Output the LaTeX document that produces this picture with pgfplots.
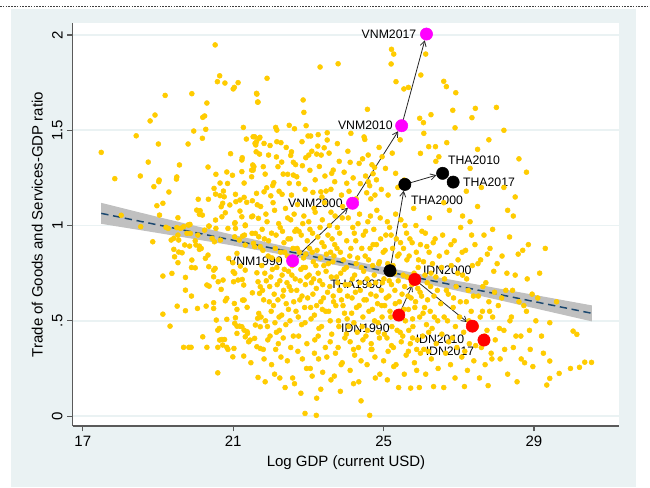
\documentclass[border=0pt]{standalone}
\usepackage{fontspec}
\setmainfont{Liberation Sans}
\usepackage{pgfplots}
\usepackage{pgfplotstable}
\pgfplotsset{compat=1.18}
\usetikzlibrary{arrows.meta}
\definecolor{bgc}{RGB}{234,242,243}
\definecolor{dotc}{RGB}{255,204,0}
\definecolor{bandc}{RGB}{192,192,192}
\definecolor{navy}{RGB}{26,71,111}
\definecolor{axc}{RGB}{90,90,90}
\definecolor{mag}{RGB}{255,0,255}

\pgfplotstableread{
x y
17.49 1.384
17.85 1.246
18.02 1.054
18.42 1.471
18.53 1.260
18.74 1.333
18.79 1.549
18.92 1.580
19.01 1.428
19.19 1.683
19.03 1.239
19.02 1.230
18.89 1.204
19.13 1.117
18.97 1.104
19.04 1.055
19.29 1.176
19.50 1.255
19.49 1.244
19.57 1.318
19.80 1.428
19.90 1.692
20.52 1.948
20.64 1.786
20.58 1.755
20.78 1.748
21.13 1.750
21.00 1.717
21.03 1.725
21.62 1.694
21.65 1.648
20.30 1.643
20.19 1.568
20.24 1.575
20.27 1.505
19.95 1.496
20.18 1.458
21.27 1.515
21.35 1.454
21.57 1.466
21.69 1.458
21.60 1.423
21.62 1.440
20.93 1.377
21.24 1.356
21.23 1.344
20.33 1.307
20.54 1.269
20.65 1.223
20.85 1.221
20.98 1.264
20.83 1.281
21.23 1.283
21.29 1.223
21.53 1.291
21.55 1.309
21.49 1.256
20.74 1.181
20.53 1.165
20.34 1.138
20.07 1.138
20.03 1.081
20.12 1.078
20.10 1.059
20.18 1.055
20.49 1.195
20.65 1.157
20.76 1.151
20.72 1.117
20.68 1.099
20.79 1.067
20.70 1.046
20.53 1.029
21.06 1.164
20.91 1.108
21.07 1.125
21.18 1.134
21.29 1.148
21.36 1.122
21.51 1.130
21.64 1.109
21.18 1.076
21.23 1.046
21.49 1.046
21.67 1.038
19.80 1.003
19.53 1.041
18.54 0.994
19.21 0.991
19.50 0.989
19.85 1.006
20.36 0.997
21.05 1.015
21.32 0.999
25.21 1.925
25.27 1.900
25.20 1.848
26.12 1.900
25.99 1.790
25.33 1.755
25.54 1.717
25.66 1.725
26.60 1.757
26.67 1.729
26.92 1.697
27.44 1.615
27.35 1.566
26.84 1.605
26.90 1.513
26.26 1.582
25.96 1.563
26.06 1.540
26.07 1.484
26.20 1.414
26.38 1.414
26.68 1.435
25.98 1.379
26.47 1.361
26.39 1.337
24.57 1.610
24.13 1.484
24.50 1.452
24.48 1.465
23.31 1.832
23.79 1.849
21.90 1.773
21.63 1.690
21.66 1.648
22.86 1.659
22.88 1.594
22.49 1.526
22.94 1.524
22.13 1.515
22.16 1.501
22.99 1.470
23.06 1.470
23.26 1.477
23.50 1.487
23.50 1.449
23.25 1.417
23.22 1.375
23.34 1.370
23.42 1.408
23.01 1.370
22.93 1.356
22.84 1.314
22.55 1.387
22.53 1.368
22.63 1.508
22.29 1.333
22.16 1.440
22.27 1.435
21.53 1.466
21.71 1.463
21.58 1.431
21.82 1.431
21.61 1.387
21.70 1.375
21.94 1.370
21.52 1.318
21.49 1.291
21.80 1.309
22.19 1.309
22.60 1.332
22.60 1.265
22.45 1.269
22.69 1.256
22.49 1.222
22.08 1.225
21.89 1.198
21.82 1.177
21.62 1.169
22.30 1.164
22.00 1.156
23.12 1.174
23.33 1.177
23.47 1.181
23.66 1.291
23.82 1.337
24.11 1.332
24.02 1.222
23.62 1.274
24.35 1.326
24.59 1.370
24.69 1.319
24.76 1.305
24.96 1.361
24.72 1.272
24.59 1.230
24.63 1.209
24.55 1.172
24.77 1.160
25.32 1.274
25.55 1.239
18.86 0.915
19.13 0.735
19.13 0.535
19.32 0.472
19.37 0.749
19.42 0.875
19.44 0.836
19.53 0.805
19.55 0.861
19.64 0.857
19.51 0.577
19.73 0.728
19.73 0.661
19.73 0.553
19.68 0.361
19.82 0.361
19.88 0.361
19.89 0.630
19.90 0.819
19.89 0.780
19.99 0.778
20.05 0.565
20.19 0.416
20.30 0.361
20.28 0.577
20.30 0.688
20.36 0.682
20.26 0.828
20.33 0.845
20.35 0.784
20.48 0.766
20.52 0.775
20.48 0.731
20.48 0.595
20.48 0.565
20.55 0.504
20.60 0.705
20.68 0.665
20.59 0.451
20.63 0.460
20.64 0.399
20.70 0.402
20.77 0.402
20.59 0.361
20.59 0.227
20.73 0.714
20.79 0.605
20.83 0.618
20.83 0.508
20.72 0.373
20.83 0.361
20.86 0.350
20.99 0.311
21.02 0.355
21.00 0.758
21.04 0.749
21.03 0.591
21.06 0.516
21.04 0.487
21.10 0.472
21.17 0.472
21.23 0.469
21.10 0.560
21.10 0.434
21.01 0.705
21.13 0.714
21.24 0.717
21.28 0.688
21.16 0.924
21.32 0.898
21.25 0.945
21.30 0.950
21.10 0.854
20.99 0.805
20.88 0.828
21.19 0.787
21.32 0.766
21.25 0.609
21.29 0.609
21.37 0.571
21.29 0.451
21.37 0.443
21.32 0.416
21.38 0.434
21.41 0.390
21.45 0.399
21.28 0.315
21.47 0.280
21.51 0.647
21.57 0.408
21.59 0.478
21.63 0.364
21.72 0.355
21.66 0.203
21.66 0.705
21.72 0.679
21.70 0.644
21.68 0.539
21.65 0.513
21.72 0.469
21.63 0.752
19.27 0.985
19.35 0.924
19.42 0.933
19.53 0.950
19.55 0.924
19.60 0.985
19.68 0.994
19.82 1.003
19.77 0.959
19.86 0.959
19.71 0.898
19.84 0.892
19.99 0.920
20.06 0.950
20.01 0.898
20.10 0.892
20.15 0.880
20.10 0.875
20.24 0.976
20.35 0.997
20.54 0.985
20.44 0.933
20.50 0.915
20.66 0.924
20.86 0.985
21.04 1.011
21.06 0.985
21.04 0.941
21.32 1.003
21.50 0.959
21.59 0.959
21.68 0.941
21.54 0.907
21.57 0.889
21.72 0.889
21.52 1.05
21.73 1.10
21.76 0.79
21.78 0.66
21.80 0.35
21.83 0.93
21.86 0.50
21.88 0.71
21.90 1.02
21.93 0.84
21.96 0.60
21.98 0.42
21.85 0.18
22.02 0.96
22.04 0.77
22.07 0.58
22.10 1.08
22.12 0.88
22.15 0.44
22.17 0.69
22.20 0.82
22.22 0.52
22.25 0.99
22.27 0.31
22.30 0.74
22.32 0.63
22.35 0.91
22.37 0.86
22.40 0.48
22.43 0.70
22.45 1.04
22.47 0.56
22.10 0.22
22.38 0.15
22.20 0.38
22.52 0.93
22.54 0.66
22.57 0.79
22.60 0.42
22.62 1.06
22.65 0.72
22.67 0.55
22.70 0.88
22.72 0.34
22.75 0.97
22.77 0.61
22.80 0.77
22.82 0.48
22.85 1.01
22.87 0.83
22.90 0.57
22.92 0.69
22.95 0.25
22.97 0.92
22.58 0.20
22.80 0.12
22.91 0.014
23.02 0.74
23.04 0.98
23.07 0.51
23.10 0.86
23.12 0.64
23.15 1.09
23.17 0.40
23.20 0.79
23.22 0.58
23.25 0.94
23.27 0.30
23.30 0.71
23.32 0.83
23.35 0.47
23.37 1.03
23.40 0.62
23.42 0.89
23.45 0.36
23.47 0.76
23.21 0.004
23.22 0.094
23.33 0.141
23.10 0.21
23.52 0.95
23.54 0.55
23.57 0.68
23.60 1.07
23.62 0.43
23.65 0.81
23.67 0.60
23.70 0.90
23.72 0.33
23.75 0.73
23.77 0.99
23.80 0.50
23.82 0.66
23.85 0.86
23.87 0.27
23.90 1.04
23.92 0.58
23.95 0.77
23.97 0.41
23.60 0.19
23.85 0.13
24.02 0.92
24.04 0.63
24.07 0.47
24.10 0.84
24.12 1.10
24.15 0.54
24.17 0.72
24.20 0.35
24.22 0.96
24.25 0.65
24.27 0.80
24.30 0.44
24.32 1.01
24.35 0.58
24.37 0.70
24.40 0.29
24.42 0.88
24.45 0.52
24.47 0.76
24.20 0.17
24.40 0.08
24.52 0.97
24.54 0.61
24.57 0.45
24.60 0.82
24.62 0.69
24.63 0.004
24.65 1.05
24.67 0.38
24.70 0.56
24.72 0.90
24.75 0.74
24.77 0.31
24.80 0.63
24.82 1.08
24.85 0.49
24.87 0.80
24.90 0.22
24.92 0.93
24.95 0.58
24.97 0.70
25.02 0.43
25.04 0.87
25.07 0.62
25.10 1.02
25.12 0.34
25.15 0.71
25.17 0.55
25.20 0.95
25.22 0.47
25.25 0.79
25.27 0.26
25.30 0.66
25.32 1.06
25.35 0.52
25.37 0.84
25.40 0.15
25.42 0.60
25.45 0.91
25.47 0.39
25.52 0.74
25.54 0.56
25.57 1.00
25.60 0.32
25.62 0.82
25.65 0.63
25.67 0.45
25.70 0.93
25.72 0.147
25.75 0.69
25.77 0.51
25.80 1.09
25.82 0.28
25.85 0.60
25.87 0.86
25.90 0.40
25.92 0.78
25.95 0.15
25.97 0.65
26.02 0.97
26.05 0.54
26.07 0.35
26.10 0.74
26.12 0.22
26.15 0.89
26.17 0.61
26.20 0.44
26.22 1.04
26.25 0.68
26.27 0.30
26.30 0.80
26.33 0.155
26.35 0.52
26.37 0.93
26.40 0.38
26.43 0.66
26.45 0.25
26.48 0.84
26.52 0.59
26.55 0.43
26.57 0.95
26.60 0.15
26.62 0.72
26.65 0.33
26.68 0.86
26.70 0.50
26.72 0.64
26.75 1.08
26.78 0.27
26.80 0.79
26.83 0.41
26.85 0.57
26.88 0.92
26.90 0.20
26.93 0.68
26.95 0.36
26.98 0.82
27.02 0.52
27.05 0.99
27.08 0.31
27.10 0.74
27.13 0.44
27.15 0.155
27.18 0.87
27.20 0.60
27.23 0.24
27.25 0.66
27.28 0.38
27.30 1.02
27.33 0.55
27.36 0.79
27.40 0.29
27.43 0.90
27.47 0.47
27.52 0.63
27.55 0.20
27.58 0.82
27.60 0.36
27.63 0.55
27.67 0.95
27.70 0.27
27.72 0.70
27.75 0.45
27.78 0.16
27.80 0.60
27.83 0.88
27.86 0.33
27.90 0.52
27.93 0.76
27.97 0.40
28.05 0.58
28.10 0.30
28.15 0.84
28.20 0.45
28.25 0.66
28.30 0.22
28.35 0.94
28.40 0.52
28.45 0.36
28.50 0.74
28.55 0.18
28.60 0.60
28.65 0.42
28.70 0.87
28.75 0.28
28.80 0.55
28.85 0.90
28.90 0.35
28.95 0.64
28.45 1.05
28.20 1.20
28.60 1.35
29.05 0.50
29.15 0.75
29.25 0.33
29.34 0.163
29.42 0.49
29.42 0.289
29.42 0.198
29.67 0.224
29.97 0.250
30.21 0.256
30.35 0.283
30.53 0.282
30.04 0.446
30.14 0.429
29.60 0.60
29.30 0.88
28.20 1.50
28.50 1.15
28.80 1.28
27.80 1.45
27.60 1.20
28.00 1.62
27.30 1.30
27.50 1.40
21.74 0.52
21.77 0.98
21.81 0.61
21.84 0.75
21.87 1.06
21.91 0.47
21.94 0.92
21.97 0.68
22.01 0.55
22.03 0.83
22.06 1.12
22.09 0.64
22.11 0.49
22.14 0.95
22.16 0.78
22.19 0.61
22.21 1.01
22.24 0.71
22.26 0.86
22.29 0.53
22.31 0.97
22.34 0.66
22.36 0.77
22.39 1.09
22.41 0.59
22.44 0.84
22.46 0.93
22.49 0.68
22.51 0.50
22.53 1.03
22.56 0.74
22.59 0.88
22.61 0.60
22.64 0.97
22.66 0.81
22.69 0.66
22.71 1.11
22.73 0.52
22.76 0.86
22.78 0.71
22.81 0.95
22.83 0.63
22.86 0.78
22.88 1.05
22.91 0.49
22.93 0.85
22.96 0.73
22.98 0.62
23.01 1.02
23.03 0.88
23.06 0.57
23.08 0.70
23.11 0.96
23.13 0.81
23.16 0.53
23.18 1.07
23.21 0.67
23.23 0.87
23.26 0.75
23.28 0.46
23.31 0.99
23.33 0.60
23.36 0.91
23.38 0.69
23.41 0.79
23.43 1.12
23.46 0.55
23.48 0.85
23.51 0.65
23.53 0.80
23.56 1.00
23.58 0.50
23.61 0.73
23.63 0.93
23.66 0.63
23.68 0.84
23.71 1.05
23.73 0.58
23.76 0.88
23.78 0.70
23.81 0.47
23.83 0.96
23.86 0.75
23.88 0.61
23.91 1.10
23.93 0.82
23.96 0.54
23.98 0.69
21.79 0.87
22.00 0.73
22.23 0.45
22.47 0.76
22.68 0.98
22.92 0.78
23.14 0.72
23.37 0.56
23.59 0.86
23.84 0.66
24.01 0.78
24.03 0.51
24.06 1.04
24.08 0.69
24.11 0.39
24.13 0.88
24.16 0.62
24.18 0.99
24.21 0.49
24.23 0.74
24.26 0.92
24.28 0.57
24.31 0.83
24.33 0.36
24.36 1.06
24.38 0.66
24.41 0.78
24.43 0.47
24.46 0.95
24.48 0.61
24.51 0.84
24.53 0.42
24.56 0.72
24.58 1.02
24.61 0.55
24.64 0.88
24.66 0.64
24.69 0.35
24.71 0.79
24.74 0.98
24.76 0.50
24.79 0.70
24.81 0.90
24.84 0.59
24.86 0.44
24.89 0.81
24.91 1.04
24.94 0.66
24.96 0.52
24.99 0.86
25.01 0.72
25.03 0.58
25.06 0.95
25.09 0.41
25.11 0.80
25.14 0.63
25.16 0.99
25.19 0.52
25.21 0.69
25.24 0.88
25.26 0.36
25.29 0.75
25.31 0.59
25.34 0.93
25.36 0.45
25.39 0.71
25.41 0.85
25.44 0.55
25.46 1.03
25.49 0.64
25.51 0.42
25.53 0.88
25.56 0.68
25.58 0.50
25.61 0.96
25.63 0.73
25.66 0.56
25.68 0.84
25.71 0.38
25.73 0.62
25.76 0.91
25.78 0.47
25.81 0.75
25.83 0.57
25.86 1.00
25.88 0.35
25.91 0.67
25.93 0.82
25.96 0.52
25.98 0.90
26.01 0.63
26.04 0.42
26.06 0.81
26.09 0.57
26.11 0.96
26.14 0.48
26.16 0.70
26.19 0.34
26.21 0.86
26.24 0.55
26.26 0.75
26.29 0.46
26.32 0.91
26.34 0.63
26.39 0.73
26.44 0.50
22.05 1.21
22.15 1.36
22.22 1.18
22.33 1.27
22.41 1.41
22.55 1.16
22.66 1.32
22.74 1.22
22.83 1.44
22.91 1.19
23.04 1.29
23.09 1.39
23.18 1.24
23.29 1.31
23.36 1.15
23.44 1.26
23.55 1.38
23.60 1.19
23.70 1.23
23.77 1.43
23.88 1.16
23.95 1.28
24.05 1.39
24.08 1.18
24.19 1.25
24.27 1.14
24.38 1.22
24.44 1.35
24.52 1.26
24.66 1.14
24.81 1.24
24.88 1.41
24.94 1.19
25.05 1.30
25.12 1.16
25.23 1.38
25.38 1.20
25.44 1.45
21.85 1.27
21.98 1.42
26.54 0.78
26.61 0.52
26.67 0.66
26.73 0.39
26.79 0.90
26.86 0.62
26.91 0.47
26.97 0.75
27.04 0.60
27.09 0.86
27.16 0.34
27.21 0.72
27.27 0.50
27.34 0.95
27.39 0.63
27.45 0.37
27.51 0.80
27.57 0.52
27.64 0.68
27.69 0.42
27.76 0.85
27.82 0.55
27.88 0.30
27.95 0.65
28.02 0.80
28.08 0.46
28.14 0.62
28.22 0.35
28.28 0.75
28.36 0.50
28.43 0.66
28.52 0.42
28.58 0.85
28.66 0.30
28.73 0.58
28.82 0.72
28.88 0.45
28.97 0.26
29.10 0.62
29.20 0.42
21.82 0.30
21.92 0.40
22.02 0.27
22.13 0.35
22.24 0.20
22.33 0.41
22.44 0.29
22.53 0.36
22.63 0.17
22.74 0.42
22.84 0.30
22.96 0.38
23.05 0.25
23.16 0.33
23.26 0.42
23.38 0.23
23.49 0.31
23.58 0.39
23.69 0.21
23.79 0.36
23.90 0.28
24.01 0.43
24.11 0.24
24.23 0.32
24.34 0.18
24.45 0.40
24.56 0.27
24.67 0.35
24.78 0.20
24.89 0.41
25.00 0.29
25.10 0.19
25.21 0.37
25.33 0.27
25.44 0.44
25.55 0.22
25.66 0.34
25.77 0.41
25.88 0.24
25.98 0.33
27.10 1.05
27.50 1.10
27.90 0.98
28.30 1.08
27.20 1.18
26.60 1.12
}\scatterdata

\newcommand{\lbl}{\fontsize{9.2}{11}\selectfont}
\newcommand{\axfont}{\fontsize{11.25}{13.5}\selectfont}

\begin{document}
\begin{tikzpicture}[x=1pt,y=1pt]
\useasboundingbox (0,0) rectangle (487.5,365.25);
\fill[bgc] (8.25,0) rectangle (477,358.5);
\draw[dash pattern=on 1.2pt off 0.9pt, line width=0.5pt, black!75] (0,360.2) -- (487.5,360.2);
\begin{axis}[
  at={(54.5pt,45.75pt)}, anchor=south west, scale only axis,
  width=410pt, height=302.25pt,
  xmin=16.73, xmax=31.27, ymin=-0.052, ymax=2.063,
  axis x line*=bottom, axis y line*=left,
  x axis line style={-}, y axis line style={-},
  axis line style={axc, line width=0.8pt},
  axis background/.style={fill=white},
  xtick={17,21,25,29}, xticklabels={17,21,25,29},
  ytick={0,0.5,1,1.5,2}, yticklabels={0,.5,1,1.5,2},
  tick align=outside, major tick length=4pt,
  tick style={axc, line width=0.8pt},
  ymajorgrids, grid style={bgc, line width=1.2pt},
  /pgf/number format/assume math mode=true,
  y tick label style={rotate=90, anchor=south},
  tick label style={font=\axfont},
  label style={font=\axfont},
  xlabel={Log GDP (current USD)},
  ylabel={Trade of Goods and Services-GDP ratio},
]
\addplot[only marks, mark=*, mark size=1.85pt, mark options={fill=dotc, draw=dotc}] table {\scatterdata};
\addplot[fill=bandc, draw=none] coordinates {
(17.49,1.119) (19,1.045) (21,0.951) (23,0.864) (24.5,0.802) (26,0.744) (28,0.672) (30.54,0.581)
(30.54,0.497) (28,0.612) (26,0.700) (24.5,0.762) (23,0.822) (21,0.895) (19,0.961) (17.49,1.009)
} -- cycle;
\addplot[navy, line width=1.1pt, dash pattern=on 5.5pt off 3.5pt] coordinates {(17.49,1.064) (30.54,0.5394)};
% arrows
\addplot[black!85, line width=0.6pt, -{Straight Barb[length=4pt,width=4.5pt]}, shorten >=4.8pt] coordinates {(22.58,0.815) (24.175,1.117)};
\addplot[black!85, line width=0.6pt, -{Straight Barb[length=4pt,width=4.5pt]}, shorten >=4.8pt] coordinates {(24.175,1.117) (25.48,1.524)};
\addplot[black!85, line width=0.6pt, -{Straight Barb[length=4pt,width=4.5pt]}, shorten >=4.8pt] coordinates {(25.48,1.524) (26.14,2.005)};
\addplot[black!85, line width=0.6pt, -{Straight Barb[length=4pt,width=4.5pt]}, shorten >=4.8pt] coordinates {(25.17,0.763) (25.565,1.216)};
\addplot[black!85, line width=0.6pt, -{Straight Barb[length=4pt,width=4.5pt]}, shorten >=4.8pt] coordinates {(25.565,1.216) (26.57,1.274)};
\addplot[black!85, line width=0.6pt, -{Straight Barb[length=4pt,width=4.5pt]}, shorten >=4.8pt] coordinates {(25.405,0.530) (25.83,0.717)};
\addplot[black!85, line width=0.6pt, -{Straight Barb[length=4pt,width=4.5pt]}, shorten >=4.8pt] coordinates {(25.83,0.717) (27.36,0.472)};
% country points
\addplot[only marks, mark=*, mark size=4.6pt, mark options={fill=mag, draw=mag}] coordinates {(22.58,0.815) (24.175,1.117) (25.48,1.524) (26.14,2.005)};
\addplot[only marks, mark=*, mark size=4.6pt, mark options={fill=black, draw=black}] coordinates {(25.17,0.763) (25.565,1.216) (26.57,1.274) (26.85,1.228)};
\addplot[only marks, mark=*, mark size=4.6pt, mark options={fill=red, draw=red}] coordinates {(25.405,0.530) (25.83,0.717) (27.36,0.472) (27.67,0.399)};
% labels
\node[anchor=east, inner sep=0, font=\lbl] at (axis cs:25.876,2.005) {VNM2017};
\node[anchor=east, inner sep=0, font=\lbl] at (axis cs:25.246,1.524) {VNM2010};
\node[anchor=east, inner sep=0, font=\lbl] at (axis cs:23.917,1.117) {VNM2000};
\node[anchor=east, inner sep=0, font=\lbl] at (axis cs:22.323,0.815) {VNM1990};
\node[anchor=west, inner sep=0, font=\lbl] at (axis cs:26.708,1.344) {THA2010};
\node[anchor=west, inner sep=0, font=\lbl] at (axis cs:27.107,1.228) {THA2017};
\node[anchor=west, inner sep=0, font=\lbl] at (axis cs:25.724,1.134) {THA2000};
\node[anchor=east, inner sep=0, font=\lbl] at (axis cs:24.972,0.693) {THA1990};
\node[anchor=west, inner sep=0, font=\lbl] at (axis cs:26.043,0.766) {IDN2000};
\node[anchor=east, inner sep=0, font=\lbl] at (axis cs:25.167,0.4635) {IDN1990};
\node[anchor=west, inner sep=0, font=\lbl] at (axis cs:25.849,0.4026) {IDN2010};
\node[anchor=west, inner sep=0, font=\lbl] at (axis cs:26.115,0.341) {IDN2017};
\end{axis}
\end{tikzpicture}
\end{document}
